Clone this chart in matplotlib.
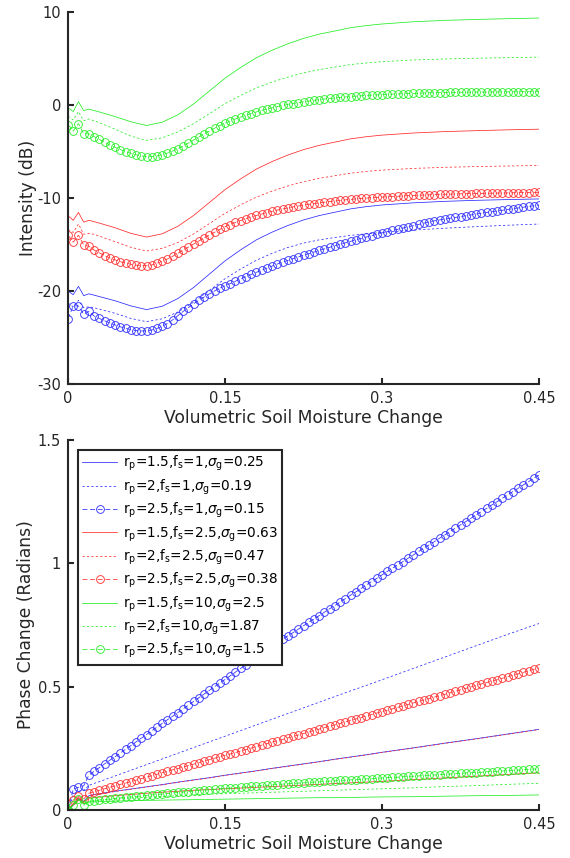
import numpy as np
import matplotlib
matplotlib.use("Agg")
import matplotlib.pyplot as plt

plt.rcParams["font.family"] = ["DejaVu Sans"]
plt.rcParams["mathtext.fontset"] = "dejavusans"
plt.rcParams["axes.unicode_minus"] = False
plt.rcParams["lines.scale_dashes"] = False

# ---------------- data ----------------
# dense grid for the marker series (every 0.005)
X_MARK = np.linspace(0, 0.45, 91)
# coarser grid for the plain-line series
X_LINE = [0, .005, .01, .015, .02, .025, .03, .045, .06, .075, .09, .105, .12, .135,
          .15, .165, .18, .195, .21, .225, .24, .255, .27, .285, .3, .33, .36, .39, .42, .45]

X_TICKS = [0, 0.15, 0.3, 0.45]
X_TICKLABELS = ["0", "0.15", "0.3", "0.45"]
Y1_TICKS = [-30, -20, -10, 0, 10]
Y2_TICKS = [0, 0.5, 1, 1.5]
Y2_TICKLABELS = ["0", "0.5", "1", "1.5"]

LABELS = [
    r"r$_{\rm p}$=1.5,f$_{\rm s}$=1,$\sigma_{\rm g}$=0.25",
    r"r$_{\rm p}$=2,f$_{\rm s}$=1,$\sigma_{\rm g}$=0.19",
    r"r$_{\rm p}$=2.5,f$_{\rm s}$=1,$\sigma_{\rm g}$=0.15",
    r"r$_{\rm p}$=1.5,f$_{\rm s}$=2.5,$\sigma_{\rm g}$=0.63",
    r"r$_{\rm p}$=2,f$_{\rm s}$=2.5,$\sigma_{\rm g}$=0.47",
    r"r$_{\rm p}$=2.5,f$_{\rm s}$=2.5,$\sigma_{\rm g}$=0.38",
    r"r$_{\rm p}$=1.5,f$_{\rm s}$=10,$\sigma_{\rm g}$=2.5",
    r"r$_{\rm p}$=2,f$_{\rm s}$=10,$\sigma_{\rm g}$=1.87",
    r"r$_{\rm p}$=2.5,f$_{\rm s}$=10,$\sigma_{\rm g}$=1.5",
]

# ---- Intensity (dB), line series on X_LINE ----
int_b15 = [-20.0, -20.4, -19.5, -20.5, -20.3, -20.45, -20.6, -21.05, -21.6, -22.0, -21.64, -20.81,
           -19.62, -18.19, -16.76, -15.57, -14.5, -13.67, -12.96, -12.36, -11.89, -11.53, -11.17,
           -10.93, -10.75, -10.52, -10.36, -10.25, -10.17, -10.1]
int_b20 = [-21.3, -21.7, -21.0, -21.8, -21.7, -21.8, -21.95, -22.4, -22.95, -23.3, -22.99, -22.25,
           -21.2, -19.94, -18.68, -17.63, -16.69, -15.95, -15.32, -14.85, -14.5, -14.25, -14.02,
           -13.85, -13.7, -13.45, -13.25, -13.08, -12.93, -12.8]
int_r15 = [-11.9, -12.4, -11.55, -12.6, -12.4, -12.55, -12.7, -13.2, -13.8, -14.2, -13.85, -13.04,
           -11.88, -10.49, -9.1, -7.94, -6.89, -6.08, -5.38, -4.8, -4.34, -3.99, -3.64, -3.41,
           -3.24, -3.01, -2.86, -2.76, -2.67, -2.6]
int_r20 = [-13.4, -13.7, -12.8, -13.9, -13.8, -13.9, -14.1, -14.7, -15.3, -15.7, -15.42, -14.78,
           -13.86, -12.76, -11.65, -10.73, -9.9, -9.26, -8.71, -8.25, -7.88, -7.6, -7.33, -7.14,
           -7.0, -6.82, -6.7, -6.62, -6.56, -6.5]
int_g15 = [-0.3, -0.7, 0.35, -0.6, -0.45, -0.6, -0.75, -1.25, -1.8, -2.2, -1.85, -1.05, 0.11, 1.5,
           2.88, 4.04, 5.08, 5.89, 6.58, 7.16, 7.62, 7.96, 8.31, 8.54, 8.71, 8.95, 9.1, 9.2, 9.28, 9.35]
int_g20 = [-1.2, -1.6, -0.7, -1.7, -1.5, -1.7, -1.9, -2.6, -3.35, -3.8, -3.53, -2.9, -2.0, -0.94,
           0.14, 1.03, 1.84, 2.47, 3.0, 3.45, 3.8, 4.08, 4.35, 4.52, 4.66, 4.84, 4.95, 5.03, 5.09, 5.15]

# ---- Intensity (dB), marker series on X_MARK ----
int_b25 = [-23.0, -21.6, -21.6, -22.5, -22.2, -22.7, -22.95, -23.2, -23.45, -23.65,
           -23.85, -24.02, -24.15, -24.25, -24.3, -24.28, -24.2, -24.03, -23.8, -23.5,
           -23.1, -22.65, -22.2, -21.78, -21.38, -21.0, -20.65, -20.32, -20.0, -19.7,
           -19.45, -19.2, -18.95, -18.7, -18.46, -18.22, -17.99, -17.76, -17.54, -17.32,
           -17.1, -16.9, -16.71, -16.52, -16.34, -16.16, -15.98, -15.81, -15.64, -15.47,
           -15.3, -15.14, -14.98, -14.82, -14.66, -14.5, -14.35, -14.2, -14.05, -13.9,
           -13.75, -13.62, -13.49, -13.36, -13.23, -13.1, -12.97, -12.84, -12.71, -12.58,
           -12.45, -12.36, -12.27, -12.18, -12.09, -12.0, -11.91, -11.82, -11.73, -11.64,
           -11.55, -11.47, -11.39, -11.31, -11.23, -11.15, -11.07, -10.99, -10.91, -10.83,
           -10.75]
int_r25 = [-14.0, -14.75, -14.0, -15.05, -15.2, -15.6, -15.9, -16.2, -16.45, -16.65,
           -16.85, -17.0, -17.12, -17.22, -17.28, -17.28, -17.2, -17.02, -16.8, -16.55,
           -16.27, -15.95, -15.62, -15.28, -14.95, -14.62, -14.3, -13.98, -13.68, -13.38,
           -13.1, -12.85, -12.62, -12.42, -12.23, -12.05, -11.88, -11.72, -11.57, -11.43,
           -11.3, -11.18, -11.07, -10.96, -10.86, -10.77, -10.68, -10.6, -10.52, -10.45,
           -10.38, -10.32, -10.26, -10.2, -10.15, -10.1, -10.05, -10.01, -9.97, -9.93,
           -9.9, -9.87, -9.84, -9.81, -9.78, -9.75, -9.73, -9.7, -9.68, -9.66,
           -9.64, -9.62, -9.6, -9.58, -9.57, -9.55, -9.54, -9.52, -9.51, -9.5,
           -9.49, -9.48, -9.47, -9.46, -9.45, -9.44, -9.43, -9.42, -9.41, -9.4,
           -9.4]
int_g25 = [-2.1, -2.8, -2.0, -3.1, -3.1, -3.4, -3.7, -4.0, -4.3, -4.55,
           -4.8, -5.0, -5.2, -5.35, -5.47, -5.55, -5.55, -5.48, -5.35, -5.17,
           -4.95, -4.7, -4.42, -4.1, -3.78, -3.45, -3.12, -2.8, -2.5, -2.22,
           -1.96, -1.72, -1.5, -1.3, -1.1, -0.92, -0.75, -0.59, -0.44, -0.3,
           -0.17, -0.05, 0.06, 0.16, 0.25, 0.34, 0.42, 0.5, 0.57, 0.64,
           0.7, 0.76, 0.81, 0.86, 0.91, 0.95, 0.99, 1.03, 1.06, 1.09,
           1.12, 1.15, 1.17, 1.19, 1.21, 1.23, 1.25, 1.27, 1.29, 1.31,
           1.32, 1.33, 1.34, 1.35, 1.36, 1.37, 1.38, 1.38, 1.39, 1.39,
           1.4, 1.4, 1.41, 1.41, 1.41, 1.42, 1.42, 1.42, 1.43, 1.43,
           1.43]

# ---- Phase change (rad), line series on X_LINE ----
ph_b15 = [0, .02, .045, .035, .058, .063, .066, .076, .085, .094, .103, .113, .122, .131, .141,
          .15, .159, .169, .178, .187, .196, .206, .215, .224, .234, .252, .271, .289, .308, .327]
ph_b20 = [0, .06, .075, .08, .1, .108, .115, .138, .161, .184, .207, .23, .253, .276, .299,
          .322, .345, .368, .391, .414, .437, .46, .483, .505, .528, .574, .62, .666, .712, .756]
ph_r15 = [0, .025, .05, .03, .048, .05, .052, .058, .063, .068, .072, .076, .08, .083, .086,
          .089, .092, .095, .098, .101, .104, .107, .11, .113, .116, .123, .13, .137, .144, .151]
ph_r20 = [0, .025, .05, .035, .055, .062, .065, .075, .084, .093, .102, .112, .121, .13, .14,
          .149, .158, .168, .177, .186, .195, .205, .214, .223, .233, .251, .27, .288, .307, .326]
ph_g15 = [0, .02, .042, .025, .032, .033, .034, .036, .038, .039, .04, .041, .042, .043, .044,
          .045, .046, .047, .048, .049, .05, .05, .051, .052, .053, .054, .056, .058, .059, .061]
ph_g20 = [0, .02, .045, .025, .035, .037, .039, .044, .048, .052, .055, .058, .061, .064, .066,
          .068, .07, .072, .074, .076, .078, .08, .082, .084, .086, .09, .095, .099, .104, .108]

# ---- Phase change (rad), marker series on X_MARK ----
ph_b25 = [0.0, 0.085, 0.092, 0.098, 0.142, 0.157, 0.172, 0.187, 0.202, 0.216,
          0.231, 0.246, 0.261, 0.276, 0.291, 0.306, 0.321, 0.336, 0.351, 0.366,
          0.380, 0.395, 0.410, 0.425, 0.440, 0.455, 0.470, 0.485, 0.500, 0.515,
          0.529, 0.544, 0.559, 0.574, 0.589, 0.604, 0.619, 0.634, 0.648, 0.663,
          0.678, 0.692, 0.706, 0.719, 0.733, 0.747, 0.761, 0.774, 0.788, 0.802,
          0.816, 0.829, 0.843, 0.857, 0.871, 0.884, 0.898, 0.912, 0.926, 0.939,
          0.953, 0.967, 0.980, 0.994, 1.007, 1.021, 1.034, 1.048, 1.061, 1.075,
          1.088, 1.102, 1.115, 1.129, 1.142, 1.156, 1.169, 1.183, 1.196, 1.210,
          1.223, 1.237, 1.250, 1.264, 1.277, 1.291, 1.304, 1.318, 1.331, 1.345,
          1.358]
ph_r25 = [0.0, 0.040, 0.055, 0.045, 0.068, 0.074, 0.080, 0.086, 0.092, 0.098,
          0.104, 0.109, 0.115, 0.121, 0.127, 0.133, 0.139, 0.145, 0.151, 0.157,
          0.163, 0.168, 0.174, 0.180, 0.186, 0.192, 0.198, 0.204, 0.210, 0.216,
          0.222, 0.227, 0.233, 0.239, 0.245, 0.251, 0.257, 0.263, 0.269, 0.275,
          0.281, 0.286, 0.292, 0.298, 0.304, 0.310, 0.316, 0.322, 0.328, 0.334,
          0.340, 0.345, 0.351, 0.357, 0.363, 0.369, 0.375, 0.381, 0.387, 0.393,
          0.399, 0.404, 0.410, 0.416, 0.422, 0.428, 0.434, 0.440, 0.446, 0.452,
          0.458, 0.463, 0.469, 0.475, 0.481, 0.487, 0.493, 0.499, 0.505, 0.511,
          0.517, 0.522, 0.528, 0.534, 0.540, 0.546, 0.552, 0.558, 0.564, 0.570,
          0.576]
ph_g25 = [0.0, 0.022, 0.045, 0.020, 0.035, 0.038, 0.041, 0.043, 0.045, 0.047,
          0.049, 0.051, 0.053, 0.055, 0.057, 0.059, 0.061, 0.063, 0.065, 0.067,
          0.069, 0.071, 0.073, 0.075, 0.077, 0.079, 0.081, 0.082, 0.084, 0.086,
          0.088, 0.089, 0.091, 0.092, 0.094, 0.096, 0.097, 0.099, 0.100, 0.102,
          0.103, 0.105, 0.106, 0.108, 0.109, 0.110, 0.112, 0.113, 0.114, 0.116,
          0.117, 0.118, 0.120, 0.121, 0.122, 0.123, 0.125, 0.126, 0.127, 0.128,
          0.130, 0.131, 0.132, 0.133, 0.135, 0.136, 0.137, 0.138, 0.140, 0.141,
          0.142, 0.143, 0.145, 0.146, 0.147, 0.148, 0.150, 0.151, 0.152, 0.153,
          0.155, 0.156, 0.157, 0.158, 0.160, 0.161, 0.162, 0.163, 0.165, 0.166,
          0.167]

# ---------------- style ----------------
BLUE, RED, GREEN = "#2a2aff", "#ff2a2a", "#22ee22"
DARK = "#262626"
SOLID = "-"
DOT = (0, (1.6, 1.6))
DASH = (0, (3.5, 2.0))
LW = 0.55

fig = plt.figure(figsize=(5.7, 8.58), dpi=100)
ax1 = fig.add_axes([68 / 570, 1 - 384 / 858, 471 / 570, 372 / 858])
ax2 = fig.add_axes([68 / 570, 1 - 810 / 858, 471 / 570, 370 / 858])


def series(ax, lines, marks, colors):
    handles = []
    for (ln_a, ln_b), mk, c in zip(lines, marks, colors):
        h1, = ax.plot(X_LINE, ln_a, color=c, lw=LW, ls=SOLID)
        h2, = ax.plot(X_LINE, ln_b, color=c, lw=LW, ls=DOT)
        h3, = ax.plot(X_MARK, mk, color=c, lw=LW, ls=DASH, marker="o", ms=5.6,
                      mfc="none", mew=0.6)
        handles += [h1, h2, h3]
    return handles


series(ax1, [(int_b15, int_b20), (int_r15, int_r20), (int_g15, int_g20)],
       [int_b25, int_r25, int_g25], [BLUE, RED, GREEN])
handles = series(ax2, [(ph_b15, ph_b20), (ph_r15, ph_r20), (ph_g15, ph_g20)],
                 [ph_b25, ph_r25, ph_g25], [BLUE, RED, GREEN])

for ax in (ax1, ax2):
    ax.set_xlim(0, 0.45)
    ax.set_xticks(X_TICKS)
    ax.set_xticklabels(X_TICKLABELS)
    for s in ("top", "right"):
        ax.spines[s].set_visible(False)
    for s in ("left", "bottom"):
        ax.spines[s].set_color(DARK)
        ax.spines[s].set_linewidth(1.5)
    ax.tick_params(direction="in", length=4, width=1.5, color=DARK,
                   labelcolor=DARK, labelsize=10.5, pad=5)
    ax.set_xlabel("Volumetric Soil Moisture Change", fontsize=12.3, color=DARK, labelpad=2)

ax1.set_ylim(-30, 10)
ax1.set_yticks(Y1_TICKS)
ax1.set_ylabel("Intensity (dB)", fontsize=12.3, color=DARK, labelpad=0)

ax2.set_ylim(0, 1.5)
ax2.set_yticks(Y2_TICKS)
ax2.set_yticklabels(Y2_TICKLABELS)
ax2.set_ylabel("Phase Change (Radians)", fontsize=12.3, color=DARK, labelpad=2)

leg = ax2.legend(handles, LABELS, loc="upper left", bbox_to_anchor=(0.021, 0.973),
                 borderaxespad=0, fontsize=9.8, frameon=True, fancybox=False,
                 framealpha=1, edgecolor=DARK, handlelength=2.6, handletextpad=0.4,
                 labelspacing=0.3, borderpad=0.3)
leg.get_frame().set_linewidth(1.5)

fig.savefig("out.png", dpi=100)
